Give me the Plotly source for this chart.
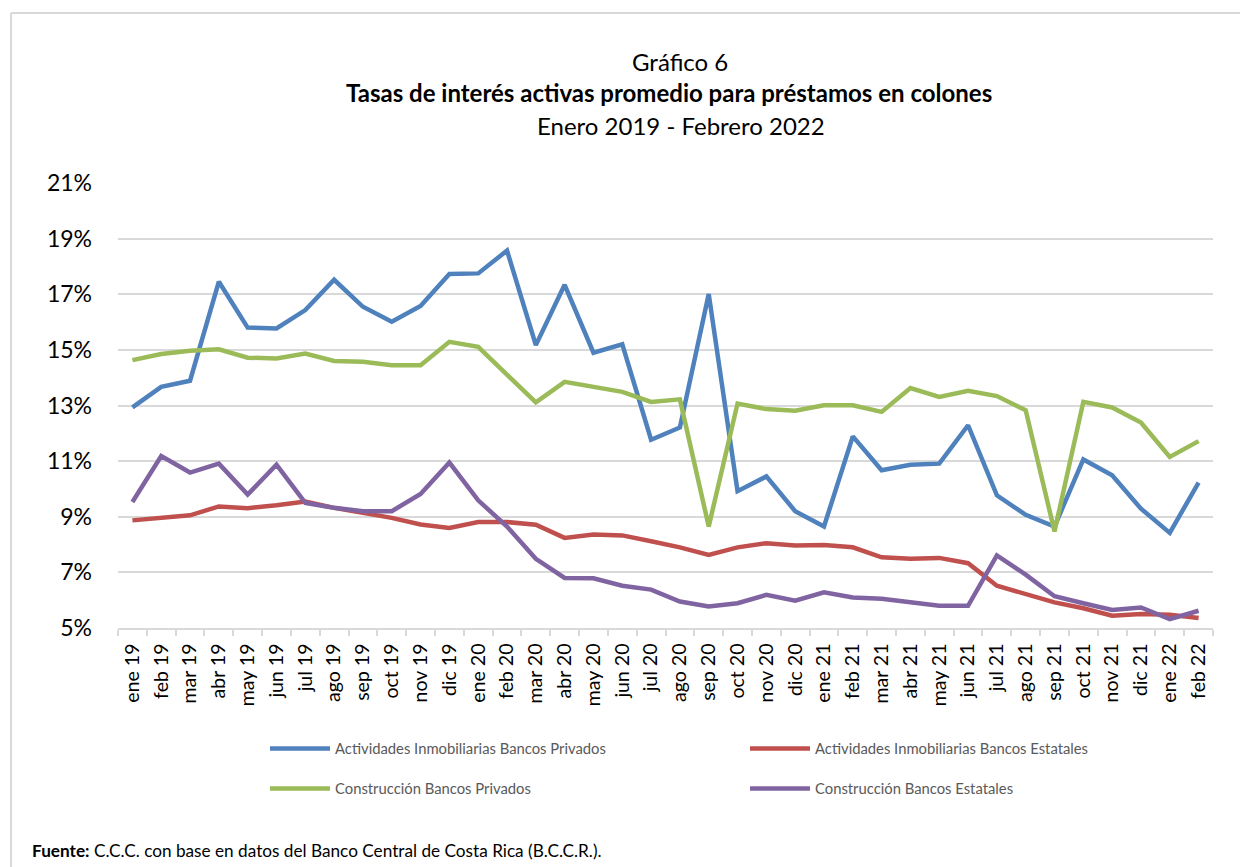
import plotly.graph_objects as go

# Month labels ene 19 .. feb 22
MESES = [
    "ene 19", "feb 19", "mar 19", "abr 19", "may 19", "jun 19", "jul 19", "ago 19",
    "sep 19", "oct 19", "nov 19", "dic 19", "ene 20", "feb 20", "mar 20", "abr 20",
    "may 20", "jun 20", "jul 20", "ago 20", "sep 20", "oct 20", "nov 20", "dic 20",
    "ene 21", "feb 21", "mar 21", "abr 21", "may 21", "jun 21", "jul 21", "ago 21",
    "sep 21", "oct 21", "nov 21", "dic 21", "ene 22", "feb 22",
]

ACT_INMOB_PRIVADOS = [
    12.93, 13.67, 13.89, 17.45, 15.80, 15.77, 16.43, 17.52, 16.55, 16.01, 16.58, 17.73,
    17.75, 18.57, 15.17, 17.34, 14.90, 15.20, 11.77, 12.21, 17.01, 9.92, 10.45, 9.20,
    8.65, 11.89, 10.67, 10.87, 10.91, 12.29, 9.77, 9.07, 8.65, 11.06, 10.49, 9.29,
    8.42, 10.23,
]
ACT_INMOB_ESTATALES = [
    8.87, 8.96, 9.05, 9.37, 9.31, 9.41, 9.55, 9.32, 9.13, 8.96, 8.72, 8.60,
    8.81, 8.81, 8.71, 8.24, 8.36, 8.33, 8.12, 7.90, 7.63, 7.90, 8.05, 7.97,
    7.98, 7.90, 7.54, 7.49, 7.52, 7.33, 6.52, 6.20, 5.92, 5.71, 5.44, 5.50,
    5.48, 5.36,
]
CONSTR_PRIVADOS = [
    14.63, 14.85, 14.97, 15.02, 14.72, 14.69, 14.87, 14.60, 14.57, 14.45, 14.45, 15.29,
    15.11, 14.13, 13.11, 13.85, 13.67, 13.49, 13.13, 13.22, 8.65, 13.07, 12.87, 12.81,
    13.01, 13.01, 12.77, 13.63, 13.31, 13.53, 13.34, 12.83, 8.47, 13.13, 12.93, 12.39,
    11.15, 11.72,
]
CONSTR_ESTATALES = [
    9.53, 11.18, 10.59, 10.91, 9.80, 10.87, 9.50, 9.32, 9.20, 9.20, 9.82, 10.95,
    9.59, 8.65, 7.49, 6.80, 6.79, 6.52, 6.38, 5.95, 5.77, 5.89, 6.19, 5.98,
    6.28, 6.10, 6.05, 5.92, 5.80, 5.80, 7.61, 6.92, 6.14, 5.89, 5.65, 5.74,
    5.32, 5.62,
]

Y_TICKS = [5, 7, 9, 11, 13, 15, 17, 19, 21]

_FONT = "Lato, 'Noto Sans', sans-serif"
# The page body adds an 8 px margin, so the figure is drawn 8 px smaller and all
# layout pixel positions below (given in page coordinates) are shifted back by it.
_OFFSET = 8
_W, _H = 1248 - _OFFSET, 867 - _OFFSET
_PLOT_L, _PLOT_R, _PLOT_T, _PLOT_B = 118, 1213, 183, 628
_MARGIN = dict(
    l=_PLOT_L - _OFFSET,
    r=_W - (_PLOT_R - _OFFSET),
    t=_PLOT_T - _OFFSET,
    b=_H - (_PLOT_B - _OFFSET),
)

# name, values, colour, legend id, legend anchor (page px)
_SERIES = [
    ("Actividades Inmobiliarias Bancos Privados", ACT_INMOB_PRIVADOS, "#4F81BD", "legend", (265, 749)),
    ("Actividades Inmobiliarias Bancos Estatales", ACT_INMOB_ESTATALES, "#C0504D", "legend2", (745, 749)),
    ("Construcción Bancos Privados", CONSTR_PRIVADOS, "#9BBB59", "legend3", (265, 789)),
    ("Construcción Bancos Estatales", CONSTR_ESTATALES, "#8064A2", "legend4", (745, 789)),
]


def _px(px):
    """Page pixel column -> paper x."""
    return (px - _PLOT_L) / (_PLOT_R - _PLOT_L)


def _py(px):
    """Page pixel row -> paper y."""
    return (_PLOT_B - px) / (_PLOT_B - _PLOT_T)


fig = go.Figure()
tLegends = {}
for tName, tValues, tColor, tLegend, tAnchor in _SERIES:
    fig.add_trace(
        go.Scatter(
            x=MESES,
            y=tValues,
            mode="lines",
            name=tName,
            line=dict(color=tColor, width=4.5),
            legend=tLegend,
            hovertemplate="%{x}: %{y:.2f}%<extra>" + tName + "</extra>",
        )
    )
    tLegends[tLegend] = dict(
        orientation="h",
        xref="paper",
        yref="paper",
        xanchor="left",
        yanchor="middle",
        x=_px(tAnchor[0]),
        y=_py(tAnchor[1]),
        itemwidth=60,
        font=dict(family=_FONT, size=14.8, color="#595959"),
        bgcolor="rgba(0,0,0,0)",
    )

_TITLE_FONT = dict(family=_FONT, size=24, color="#000000")

fig.update_layout(
    width=_W,
    height=_H,
    margin=_MARGIN,
    paper_bgcolor="white",
    plot_bgcolor="white",
    font=dict(family=_FONT, color="#000000"),
    showlegend=True,
    **tLegends,
    xaxis=dict(
        type="category",
        range=[-0.5, len(MESES) - 0.5],
        tickangle=-90,
        tickfont=dict(family=_FONT, size=19.5, color="#000000"),
        ticks="outside",
        tickson="boundaries",
        ticklen=6,
        tickwidth=1.5,
        tickcolor="#D9D9D9",
        ticklabelstandoff=6,
        showline=True,
        linecolor="#D9D9D9",
        linewidth=1.5,
        showgrid=False,
        fixedrange=True,
    ),
    yaxis=dict(
        range=[5, 21],
        tickvals=Y_TICKS,
        ticktext=[str(tV) + "%" for tV in Y_TICKS],
        tickfont=dict(family=_FONT, size=23, color="#000000"),
        showgrid=True,
        gridcolor="#D9D9D9",
        gridwidth=1.5,
        zeroline=False,
        ticks="",
        ticklabelstandoff=25,
        fixedrange=True,
    ),
    annotations=[
        dict(text="Gráfico 6", x=_px(680), y=_py(62), xref="paper", yref="paper",
             xanchor="center", yanchor="middle", showarrow=False, font=_TITLE_FONT),
        dict(text="<b>Tasas de interés activas promedio para préstamos en colones</b>",
             x=_px(669), y=_py(93), xref="paper", yref="paper",
             xanchor="center", yanchor="middle", showarrow=False, font=_TITLE_FONT),
        dict(text="Enero 2019 - Febrero 2022", x=_px(681), y=_py(125), xref="paper", yref="paper",
             xanchor="center", yanchor="middle", showarrow=False, font=_TITLE_FONT),
        dict(text="<b>Fuente:</b> C.C.C. con base en datos del Banco Central de Costa Rica (B.C.C.R.).",
             x=_px(30), y=_py(850), xref="paper", yref="paper", xanchor="left", yanchor="middle",
             showarrow=False, font=dict(family=_FONT, size=17.2, color="#000000")),
    ],
    shapes=[
        # outer chart-area frame (top and left edges visible in the source)
        dict(type="line", xref="paper", yref="paper", x0=_px(11), x1=_px(1260),
             y0=_py(13), y1=_py(13), line=dict(color="#D9D9D9", width=2)),
        dict(type="line", xref="paper", yref="paper", x0=_px(11), x1=_px(11),
             y0=_py(13), y1=_py(880), line=dict(color="#D9D9D9", width=2)),
    ],
)

fig.write_html("out.html")
